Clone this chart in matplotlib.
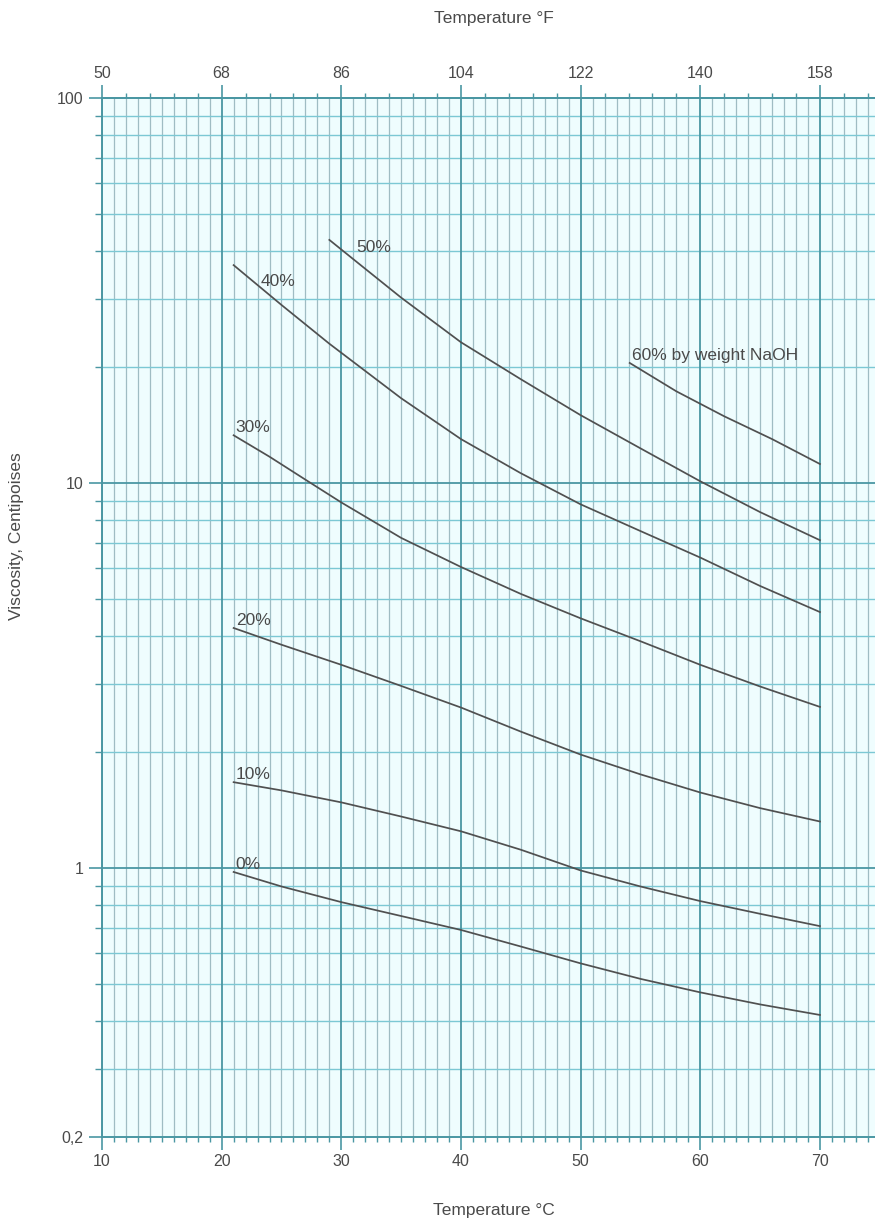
import numpy as np
import matplotlib
matplotlib.use("Agg")
import matplotlib.pyplot as plt
from matplotlib.ticker import FixedLocator, MultipleLocator, LogLocator, NullFormatter, FixedFormatter

plt.rcParams['font.family'] = ['Liberation Sans', 'DejaVu Sans']

# ---- data (temperature in deg C, viscosity in cP) ----
t_0 = [21, 25, 30, 35, 40, 45, 50, 55, 60, 65, 70]
v_0 = [0.976, 0.895, 0.815, 0.75, 0.69, 0.625, 0.565, 0.515, 0.475, 0.442, 0.415]
t_10 = [21, 25, 30, 35, 40, 45, 50, 55, 60, 65, 70]
v_10 = [1.67, 1.59, 1.48, 1.36, 1.245, 1.115, 0.985, 0.895, 0.82, 0.76, 0.706]
t_20 = [21, 25, 30, 35, 40, 45, 50, 55, 60, 65, 70]
v_20 = [4.2, 3.8, 3.37, 2.97, 2.61, 2.26, 1.97, 1.75, 1.57, 1.43, 1.32]
t_30 = [21, 24, 27, 30, 35, 40, 45, 50, 55, 60, 65, 70]
v_30 = [13.3, 11.7, 10.2, 8.9, 7.2, 6.05, 5.15, 4.45, 3.88, 3.37, 2.96, 2.62]
t_40 = [21, 25, 29, 35, 40, 45, 50, 55, 60, 65, 70]
v_40 = [36.8, 29.0, 23.0, 16.6, 13.0, 10.6, 8.8, 7.5, 6.4, 5.4, 4.62]
t_50 = [29, 32, 35, 40, 45, 50, 55, 60, 65, 70]
v_50 = [42.8, 36.0, 30.3, 23.2, 18.6, 15.0, 12.3, 10.1, 8.4, 7.1]
t_60 = [54.1, 58, 62, 66, 70]
v_60 = [20.5, 17.3, 14.9, 13.0, 11.2]

series = [
    ("0%", t_0, v_0),
    ("10%", t_10, v_10),
    ("20%", t_20, v_20),
    ("30%", t_30, v_30),
    ("40%", t_40, v_40),
    ("50%", t_50, v_50),
    ("60% by weight NaOH", t_60, v_60),
]

c_major_ticks = [10, 20, 30, 40, 50, 60, 70]
f_major_ticks = [50, 68, 86, 104, 122, 140, 158]
y_major_ticks = [0.2, 1, 10, 100]
y_major_labels = ["0,2", "1", "10", "100"]

# label offsets (pixels) relative to curve start
label_offsets = {
    "40%": (27, -16, 'center'),
    "50%": (27, -8, 'center'),
}

# ---- figure ----
W, H = 875, 1227
fig = plt.figure(figsize=(W / 100, H / 100), dpi=100)
ax = fig.add_axes([102 / W, 1 - 1137 / H, 1 - 102 / W, (1137 - 98) / H])
ax.set_facecolor('#effdfe')
ax.set_yscale('log')
ax.set_xlim(10, 74.6)
ax.set_ylim(0.2, 100)

major_c = '#4a97a3'
vminor_c = '#9fbcc3'
hminor_c = '#7cc8d4'
txt_c = '#4a4a4a'

ax.xaxis.set_major_locator(FixedLocator(c_major_ticks))
ax.xaxis.set_minor_locator(MultipleLocator(1))
ax.yaxis.set_major_locator(FixedLocator(y_major_ticks))
ax.yaxis.set_major_formatter(FixedFormatter(y_major_labels))
ax.yaxis.set_minor_locator(LogLocator(base=10, subs=np.arange(2, 10)))
ax.yaxis.set_minor_formatter(NullFormatter())

for xv in np.arange(11, 75, 1):
    if xv % 10 != 0:
        ax.axvline(xv, color=vminor_c, lw=0.9, zorder=0.5)
for xv in c_major_ticks:
    ax.axvline(xv, color=major_c, lw=1.3, zorder=0.7)
for dec in [0.1, 1, 10]:
    for s in range(2, 10):
        yv = dec * s
        if 0.2 < yv < 100:
            ax.axhline(yv, color=hminor_c, lw=1.0, zorder=0.6)
for yv in [1, 10, 100]:
    ax.axhline(yv, color=major_c, lw=1.3, zorder=0.7)

for sp in ax.spines.values():
    sp.set_color(major_c)
    sp.set_linewidth(1.4)
ax.spines['right'].set_visible(False)

ax.tick_params(axis='x', which='major', direction='out', length=9.5, width=1.2,
               color=major_c, labelsize=11.5, labelcolor=txt_c, pad=3)
ax.tick_params(axis='x', which='minor', direction='out', length=3.5, width=1.0,
               color=major_c)
ax.tick_params(axis='y', which='major', direction='out', length=9.5, width=1.2,
               color=major_c, labelsize=11.5, labelcolor=txt_c, pad=4)
ax.tick_params(axis='y', which='minor', direction='out', length=5, width=1.0,
               color=major_c)

sec = ax.secondary_xaxis('top', functions=(lambda c: c * 1.8 + 32, lambda f: (f - 32) / 1.8))
sec.xaxis.set_major_locator(FixedLocator(f_major_ticks))
sec.xaxis.set_minor_locator(FixedLocator(np.arange(50, 170, 3.6)))
sec.tick_params(axis='x', which='major', direction='out', length=9.5, width=1.2,
                color=major_c, labelsize=11.5, labelcolor=txt_c, pad=3)
sec.tick_params(axis='x', which='minor', direction='out', length=3.5, width=1.0,
                color=major_c)
sec.spines['top'].set_color(major_c)
sec.spines['top'].set_linewidth(1.4)

for name, t, v in series:
    ax.plot(t, v, color='#505050', lw=1.25, zorder=3)
    dx, dy, va = label_offsets.get(name, (2, 0, 'bottom'))
    ax.annotate(name, (t[0], v[0]), xytext=(dx * 0.72, dy * 0.72), textcoords='offset points',
                ha='left', va=va, fontsize=12.5, color=txt_c, zorder=4)

fig.text(494 / W, 1 - 18 / H, "Temperature °F", ha='center', va='center',
         fontsize=12.5, color=txt_c)
fig.text(494 / W, 1 - 1210 / H, "Temperature °C", ha='center', va='center',
         fontsize=12.5, color=txt_c)
fig.text(17 / W, 1 - 536 / H, "Viscosity, Centipoises", ha='center', va='center',
         rotation=90, fontsize=12.5, color=txt_c)

fig.savefig("out.png", dpi=100)
